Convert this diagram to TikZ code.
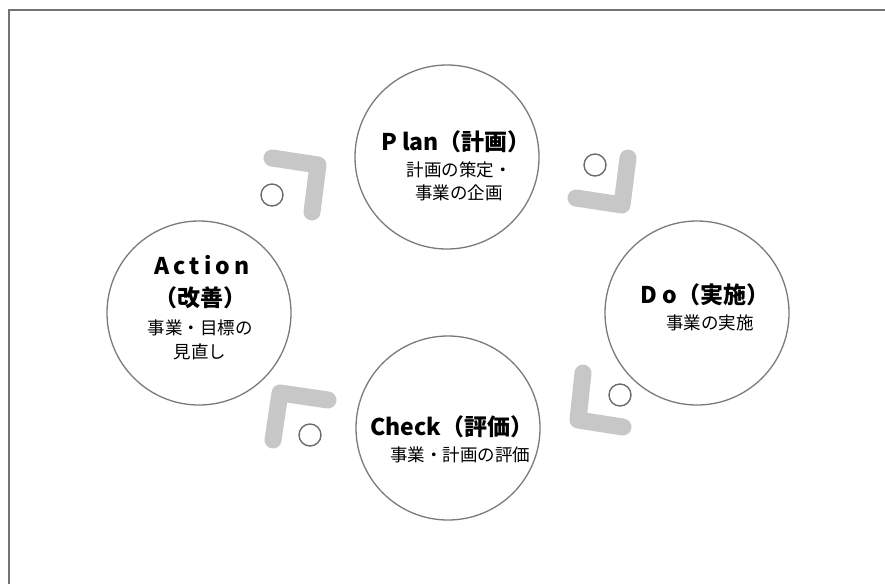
\documentclass[tikz,border=0pt]{standalone}
\usepackage{fontspec}
\setmainfont{Noto Sans CJK JP}
\begin{document}
\begin{tikzpicture}[x=1pt,y=-1pt,
  bigc/.style={circle, draw=black!52, line width=1.3pt, minimum size=184pt, inner sep=0pt},
  smallc/.style={circle, draw=black!58, line width=1.4pt, minimum size=22pt, inner sep=0pt},
  chev/.style={draw=black!22, line width=17pt, line cap=round, line join=round},
  frameline/.style={draw=black!55, line width=1.4pt},
  ttl/.style={inner sep=0pt, font=\fontsize{23}{27}\selectfont\bfseries},
  sub/.style={inner sep=0pt, font=\fontsize{17.5}{21}\selectfont}]
\useasboundingbox (0,0) rectangle (885,584);
% frame (only top and left edges visible)
\coordinate (f1) at (9,584);
\coordinate (f2) at (9,10);
\coordinate (f3) at (886,10);
\draw[frameline] (f1) -- (f2) -- (f3);
% chevrons
\draw[chev] (272,158) -- (318,165) -- (312,212);
\draw[chev] (628,158) -- (622,205) -- (576,198);
\draw[chev] (583,373) -- (578,420) -- (623,427);
\draw[chev] (273,440) -- (280,393) -- (328,400);
% small circles
\node[smallc] (s1) at (272,195) {};
\node[smallc] (s2) at (595,165) {};
\node[smallc] (s3) at (620,395) {};
\node[smallc] (s4) at (310,435) {};
% big circles
\node[bigc] (plan) at (447,157) {};
\node[bigc] (action) at (199,313) {};
\node[bigc] (do) at (697,313) {};
\node[bigc] (check) at (448,428) {};
% texts
\node[ttl] (planT) at (456,142) {P lan（計画）};
\node[sub] (planS1) at (459,170) {計画の策定・};
\node[sub] (planS2) at (459,193) {事業の企画};
\node[ttl] (actT1) at (202,265) {\addfontfeature{LetterSpace=18}Action};
\node[ttl] (actT2) at (200,298) {（改善）};
\node[sub] (actS1) at (200,328) {事業・目標の};
\node[sub] (actS2) at (200,352) {見直し};
\node[ttl] (doT) at (705,295) {{\addfontfeature{LetterSpace=25}Do}（実施）};
\node[sub] (doS) at (710,323) {事業の実施};
\node[ttl] (chkT) at (452,427) {Check（評価）};
\node[sub] (chkS) at (460,455) {事業・計画の評価};
\end{tikzpicture}
\end{document}
